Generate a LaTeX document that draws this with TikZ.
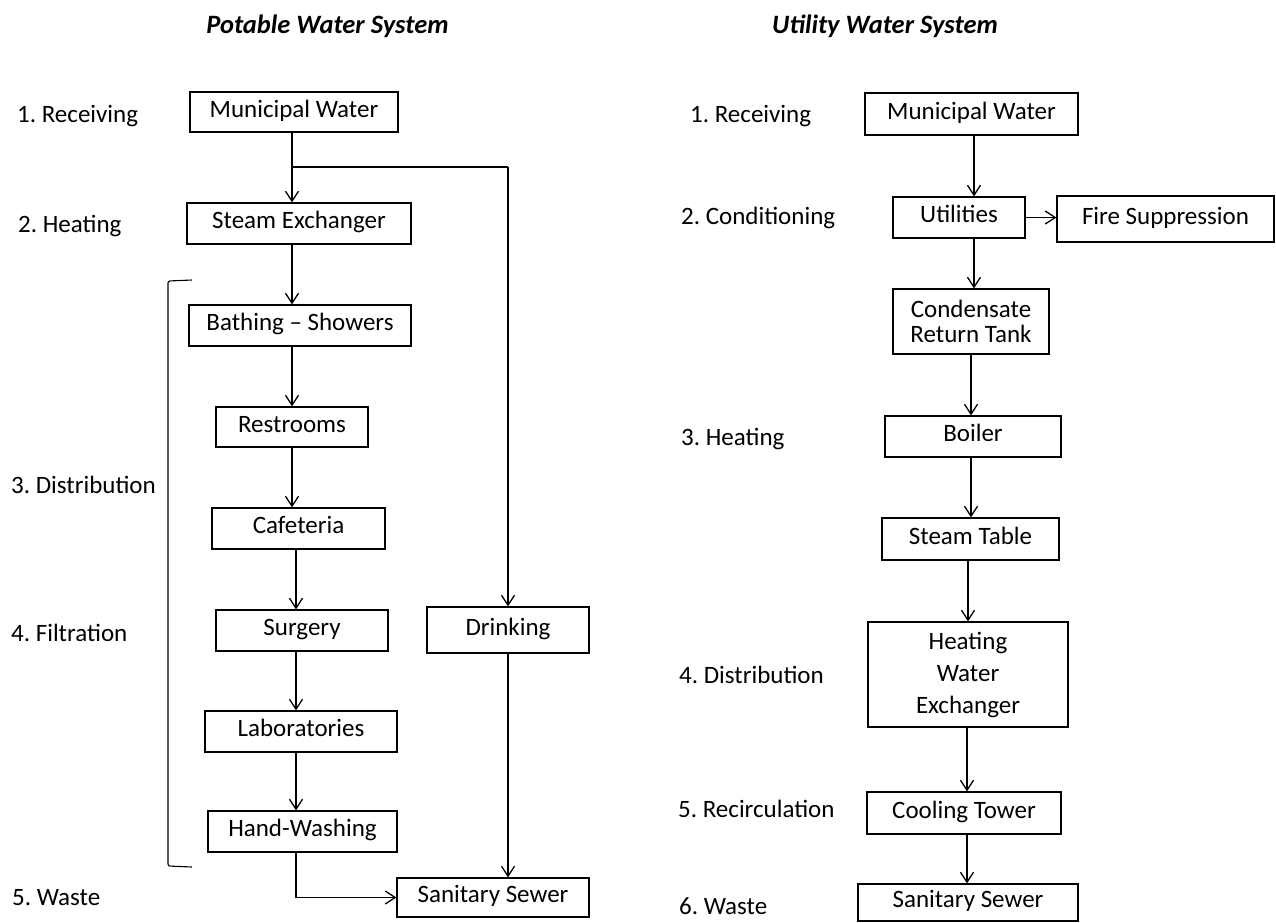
\documentclass[tikz,border=0pt]{standalone}
\usepackage{fontspec}
\setmainfont{Carlito}
\usetikzlibrary{arrows.meta}
\begin{document}
\frenchspacing
\begin{tikzpicture}[x=1pt,y=-1pt,
  font=\fontsize{25}{30}\selectfont,
  boxbase/.style={draw, line width=1.2pt, inner sep=0pt, align=center, anchor=center},
  box/.style={boxbase, text height=17pt, text depth=7pt},
  arr/.style={line width=1.3pt, -{Straight Barb[length=10pt,width=13pt,line width=1.3pt]}},
  conn/.style={line width=1.3pt},
  lbl/.style={anchor=base west, inner sep=0pt},
  ttl/.style={anchor=base, inner sep=0pt, font=\fontsize{26.5}{30}\selectfont\bfseries\itshape},
]
\useasboundingbox (0,0) rectangle (1276,922);

% titles
\node[ttl] (t1) at (327.5,33) {Potable Water System};
\node[ttl] (t2) at (885,33) {Utility Water System};

% left labels
\node[lbl] (l1) at (17,122) {1. Receiving};
\node[lbl] (l2) at (18,232) {2. Heating};
\node[lbl] (l3) at (11,493) {3. Distribution};
\node[lbl] (l4) at (11,641) {4. Filtration};
\node[lbl] (l5) at (12,905) {5. Waste};

% right labels
\node[lbl] (r1) at (690,122) {1. Receiving};
\node[lbl] (r2) at (681,224) {2. Conditioning};
\node[lbl] (r3) at (681,445) {3. Heating};
\node[lbl] (r4) at (679,683) {4. Distribution};
\node[lbl] (r5) at (678,817) {5. Recirculation};
\node[lbl] (r6) at (679,914) {6. Waste};

% left boxes
\node[box, minimum width=208pt, minimum height=40pt] (muniL) at (294,112) {Municipal Water};
\node[box, minimum width=224pt, minimum height=41pt] (steam) at (299,223.5) {Steam Exchanger};
\node[box, minimum width=222pt, minimum height=41pt] (bath) at (300,325.5) {Bathing -- Showers};
\node[box, minimum width=152pt, minimum height=40pt] (rest) at (292,427) {Restrooms};
\node[box, minimum width=173pt, minimum height=41pt] (cafe) at (298.5,528.5) {Cafeteria};
\node[box, minimum width=172pt, minimum height=41pt] (surg) at (302,630.5) {Surgery};
\node[box, minimum width=192pt, minimum height=41pt] (lab) at (301,731.5) {Laboratories};
\node[box, minimum width=189pt, minimum height=41pt] (hand) at (302.5,831.5) {Hand-Washing};
\node[box, minimum width=162pt, minimum height=46pt] (drink) at (508,630) {Drinking};
\node[box, minimum width=192pt, minimum height=39pt] (sewerL) at (493,897.5) {Sanitary Sewer};

% left connectors
\coordinate (xa) at (292,0);
\coordinate (xb) at (296,0);
\coordinate (j) at (292,167);
\draw[arr] (muniL.south -| xa) -- (steam.north -| xa);
\draw[conn] (j) -- (508,167);
\draw[arr] (508,167) -- (drink.north);
\draw[arr] (steam.south -| xa) -- (bath.north -| xa);
\draw[arr] (bath.south -| xa) -- (rest.north -| xa);
\draw[arr] (rest.south -| xa) -- (cafe.north -| xa);
\draw[arr] (cafe.south -| xb) -- (surg.north -| xb);
\draw[arr] (surg.south -| xb) -- (lab.north -| xb);
\draw[arr] (lab.south -| xb) -- (hand.north -| xb);
\draw[arr] (hand.south -| xb) |- (sewerL.west);
\draw[arr] (drink.south) -- (drink.south |- sewerL.north);

% bracket
\draw[line width=1.1pt, rounded corners=2pt] (192,280) -- (168,281) -- (168,866) -- (192,867);

% right boxes
\node[box, minimum width=213pt, minimum height=42pt] (muniR) at (971.5,114) {Municipal Water};
\node[box, minimum width=132pt, minimum height=41pt] (util) at (959,217.5) {Utilities};
\node[box, minimum width=217pt, minimum height=46pt] (fire) at (1165.5,219) {Fire Suppression};
\node[boxbase, minimum width=156pt, minimum height=65pt, font=\fontsize{25}{25}\selectfont] (cond) at (971,321.5) {Condensate\\Return Tank};
\node[box, minimum width=176pt, minimum height=41pt] (boiler) at (973,436.5) {Boiler};
\node[box, minimum width=177pt, minimum height=42pt] (stable) at (970.5,539) {Steam Table};
\node[boxbase, minimum width=200pt, minimum height=105pt, font=\fontsize{25}{32}\selectfont] (hwe) at (968,674.5) {Heating\\Water\\Exchanger};
\node[box, minimum width=194pt, minimum height=42pt] (cool) at (964,813) {Cooling Tower};
\node[box, minimum width=220pt, minimum height=37pt] (sewerR) at (968,902.5) {Sanitary Sewer};

% right connectors
\coordinate (xc) at (974,0);
\coordinate (xd) at (971,0);
\coordinate (xe) at (968,0);
\coordinate (xf) at (967,0);
\draw[arr] (muniR.south -| xc) -- (util.north -| xc);
\draw[arr] (util.south -| xc) -- (cond.north -| xc);
\draw[arr] (util.east) -- (util.east -| fire.west);
\draw[arr] (cond.south -| xd) -- (boiler.north -| xd);
\draw[arr] (boiler.south -| xd) -- (stable.north -| xd);
\draw[arr] (stable.south -| xe) -- (hwe.north -| xe);
\draw[arr] (hwe.south -| xf) -- (cool.north -| xf);
\draw[arr] (cool.south -| xf) -- (sewerR.north -| xf);
\end{tikzpicture}
\end{document}
